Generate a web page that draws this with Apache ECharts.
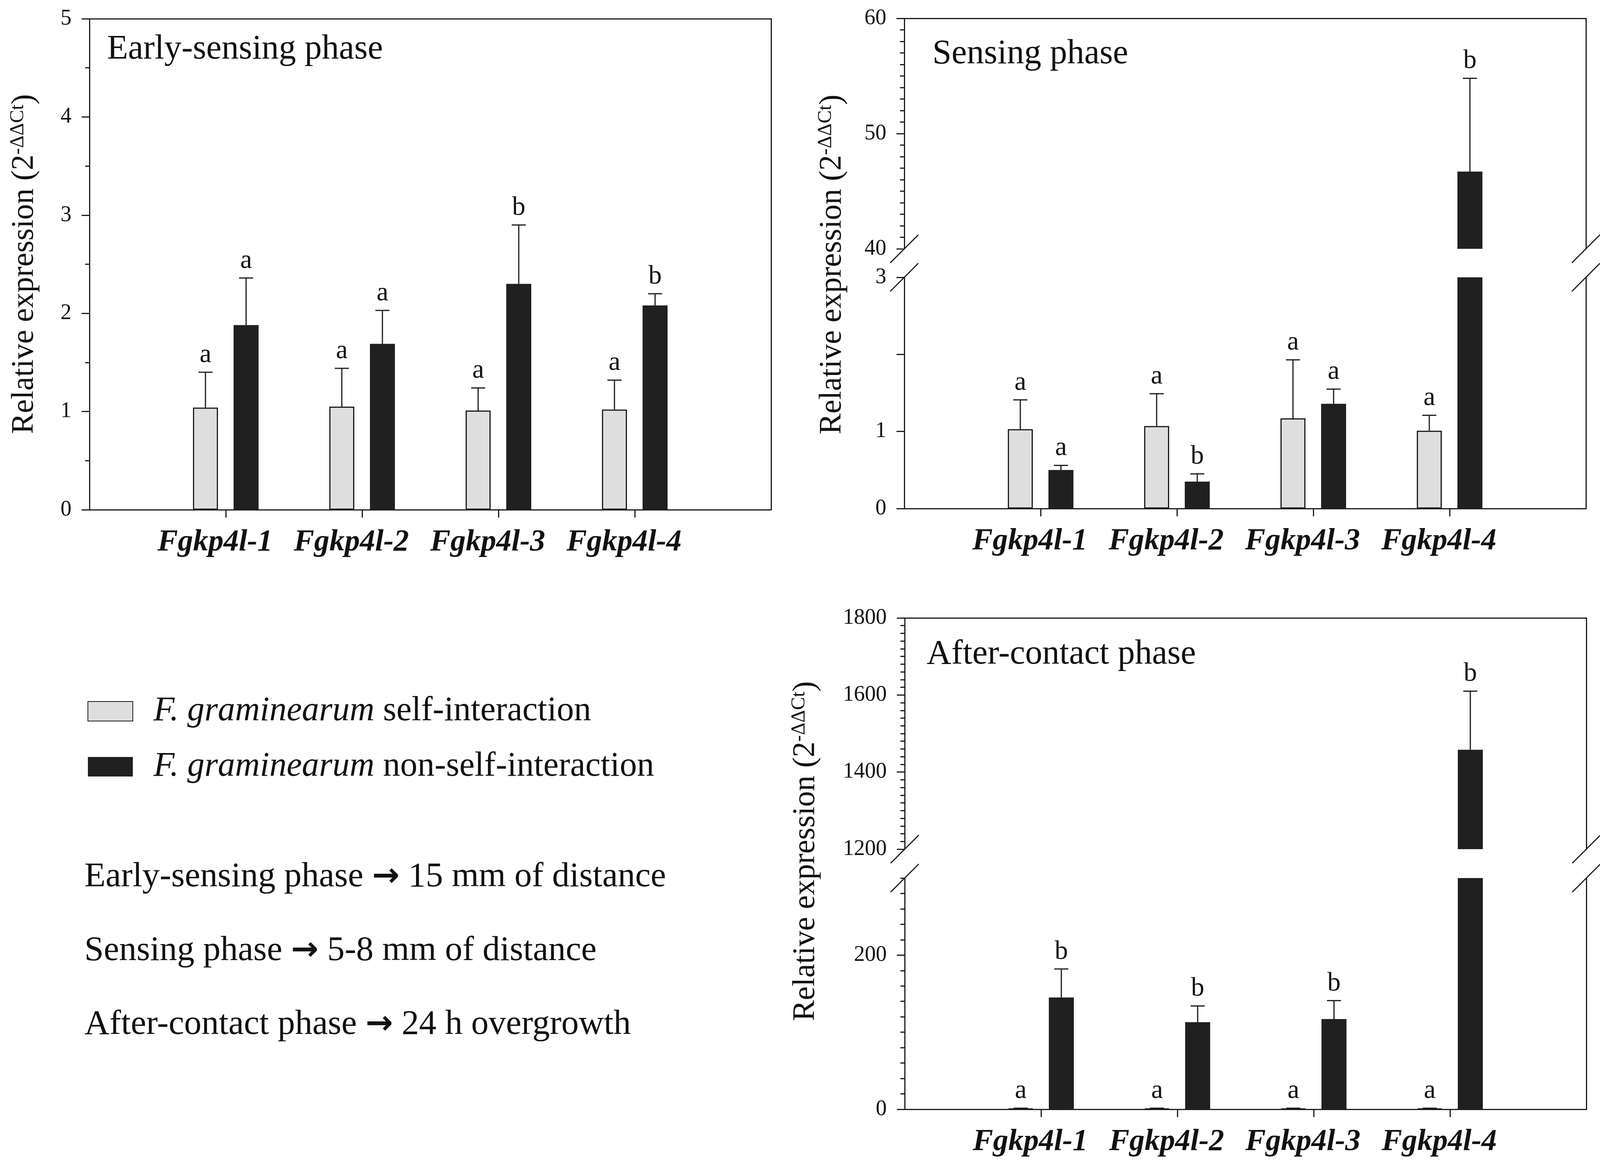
<!DOCTYPE html>
<html lang="en">
<head>
<meta charset="UTF-8">
<title>Fgkp4l relative expression</title>
<script src="https://cdn.jsdelivr.net/npm/echarts@6.0.0/dist/echarts.min.js"></script>
<style>
    html, body { margin: 0; padding: 0; background: #fff; }
    #main { width: 4125px; height: 2998px; }
</style>
</head>
<body>
<div id="main"></div>
<script type="text/javascript">
    // ---- data ----
    var genes = ['Fgkp4l-1', 'Fgkp4l-2', 'Fgkp4l-3', 'Fgkp4l-4'];
    var seriesNames = ['F. graminearum self-interaction', 'F. graminearum non-self-interaction'];

    // early-sensing phase
    var earlySelf = [1.04, 1.05, 1.01, 1.02];
    var earlySelfErr = [0.36, 0.39, 0.23, 0.30];
    var earlyNon = [1.88, 1.69, 2.30, 2.08];
    var earlyNonErr = [0.48, 0.34, 0.60, 0.12];
    var earlySelfLetters = ['a', 'a', 'a', 'a'];
    var earlyNonLetters = ['a', 'a', 'b', 'b'];

    // sensing phase
    var sensSelf = [1.03, 1.07, 1.17, 1.01];
    var sensSelfErr = [0.38, 0.42, 0.76, 0.20];
    var sensNon = [0.50, 0.35, 1.36, 46.7];
    var sensNonErr = [0.06, 0.10, 0.19, 8.1];
    var sensSelfLetters = ['a', 'a', 'a', 'a'];
    var sensNonLetters = ['a', 'b', 'a', 'b'];

    // after-contact phase
    var afterSelf = [1.0, 1.0, 1.0, 1.0];
    var afterSelfErr = [0.4, 0.4, 0.4, 0.4];
    var afterNon = [145, 113, 117, 1458];
    var afterNonErr = [37, 21, 24, 152];
    var afterSelfLetters = ['a', 'a', 'a', 'a'];
    var afterNonLetters = ['b', 'b', 'b', 'b'];

    // axis ranges / tick labels
    var earlyRange = [0, 5];
    var sensLowRange = [0, 3], sensHighRange = [40, 60];
    var afterLowRange = [0, 300], afterHighRange = [1200, 1800];
    var sensLowLabels = [0, 1, 3];
    var afterLowLabels = [0, 200];

    var notes = [
        ['Early-sensing phase', '15 mm of distance'],
        ['Sensing phase', '5-8 mm of distance'],
        ['After-contact phase', '24 h overgrowth']
    ];
    var titles = ['Early-sensing phase', 'Sensing phase', 'After-contact phase'];

    // ---- style / layout ----
    var FONT = 'Liberation Serif';
    var INK = '#1a1a1a';
    var LIGHT = '#dedede';
    var DARK = '#202020';
    var BAR_W = 64, BAR_GAP = 40;
    var OFF = (BAR_W + BAR_GAP) / 2;
    var PW = 1745;
    var CATS = [''].concat(genes).concat([' ']);

    var grids = [
        {left: 229, top: 48, width: PW, height: 1257},   // early
        {left: 2315, top: 47, width: PW, height: 590},   // sensing upper
        {left: 2315, top: 710, width: PW, height: 592},  // sensing lower
        {left: 2316, top: 1582, width: PW, height: 592}, // after upper
        {left: 2316, top: 2248, width: PW, height: 592}  // after lower
    ];

    var panels = [
        {range: earlyRange, self: earlySelf, selfErr: earlySelfErr, non: earlyNon, nonErr: earlyNonErr, sl: earlySelfLetters, nl: earlyNonLetters, bottom: true},
        {range: sensHighRange, self: sensSelf, selfErr: sensSelfErr, non: sensNon, nonErr: sensNonErr, sl: sensSelfLetters, nl: sensNonLetters, bottom: false},
        {range: sensLowRange, self: sensSelf, selfErr: sensSelfErr, non: sensNon, nonErr: sensNonErr, sl: sensSelfLetters, nl: sensNonLetters, bottom: true},
        {range: afterHighRange, self: afterSelf, selfErr: afterSelfErr, non: afterNon, nonErr: afterNonErr, sl: afterSelfLetters, nl: afterNonLetters, bottom: false},
        {range: afterLowRange, self: afterSelf, selfErr: afterSelfErr, non: afterNon, nonErr: afterNonErr, sl: afterSelfLetters, nl: afterNonLetters, bottom: true}
    ];

    var lineStyle = {color: INK, width: 3};

    function pad(vals, lo) {
        return ['-'].concat(vals.map(function (v) { return v < lo ? '-' : v; })).concat(['-']);
    }

    var xAxes = [], yAxes = [], series = [];

    panels.forEach(function (p, g) {
        xAxes.push({
            type: 'category', gridIndex: g, data: CATS, boundaryGap: false,
            position: p.bottom ? 'bottom' : 'top',
            axisLine: {show: true, onZero: false, lineStyle: lineStyle},
            axisTick: {show: p.bottom, length: 20, lineStyle: lineStyle,
                interval: function (i) { return i > 0 && i < 5; }},
            axisLabel: {show: p.bottom, interval: 0, margin: 44, color: '#111',
                fontFamily: FONT, fontSize: 78, fontWeight: 'bold', fontStyle: 'italic',
                lineHeight: 80, padding: [0, 55, 0, 0]},
            splitLine: {show: false}
        });
    });

    // left value axes
    var yCfg = [
        {interval: 1, minor: 2, fmt: function (v) { return v; }},
        {interval: 10, minor: 10, fmt: function (v) { return v; }},
        {interval: 1, minor: 0, fmt: function (v) { return sensLowLabels.indexOf(v) >= 0 ? v : ''; }},
        {interval: 200, minor: 10, fmt: function (v) { return v; }},
        {interval: 20, minor: 0, fmt: function (v) { return afterLowLabels.indexOf(v) >= 0 ? v : ''; }}
    ];
    panels.forEach(function (p, g) {
        var c = yCfg[g];
        yAxes.push({
            type: 'value', gridIndex: g, position: 'left',
            min: p.range[0], max: p.range[1], interval: c.interval,
            axisLine: {show: true, onZero: false, lineStyle: lineStyle},
            axisTick: {show: true, length: g === 4 ? 11 : 20, lineStyle: lineStyle},
            minorTick: {show: c.minor > 0, splitNumber: c.minor || 5, length: 11, lineStyle: lineStyle},
            axisLabel: {show: true, margin: 46, formatter: c.fmt, color: '#111', fontFamily: FONT, fontSize: 56},
            splitLine: {show: false}, minorSplitLine: {show: false}
        });
    });
    // right-hand frame lines
    panels.forEach(function (p, g) {
        yAxes.push({
            type: 'value', gridIndex: g, position: 'right', min: 0, max: 1,
            axisLine: {show: true, onZero: false, lineStyle: lineStyle},
            axisTick: {show: false}, axisLabel: {show: false}, splitLine: {show: false}
        });
    });
    // top frame for early panel
    xAxes.push({
        type: 'category', gridIndex: 0, data: CATS, boundaryGap: false, position: 'top',
        axisLine: {show: true, onZero: false, lineStyle: lineStyle},
        axisTick: {show: false}, axisLabel: {show: false}, splitLine: {show: false}
    });
    // long ticks at labelled values on the after-contact lower axis
    yAxes.push({
        type: 'value', gridIndex: 4, position: 'left', min: afterLowRange[0], max: afterLowRange[1],
        axisLine: {show: false, onZero: false},
        axisTick: {show: true, length: 20, lineStyle: lineStyle, customValues: afterLowLabels},
        axisLabel: {show: false}, splitLine: {show: false}
    });

    panels.forEach(function (p, g) {
        var lo = p.range[0], hi = p.range[1];
        series.push({
            name: seriesNames[0], type: 'bar', xAxisIndex: g, yAxisIndex: g,
            barWidth: BAR_W, barGap: (BAR_GAP / BAR_W * 100) + '%',
            data: pad(p.self, lo),
            itemStyle: {color: LIGHT, borderColor: INK, borderWidth: 3}
        });
        series.push({
            name: seriesNames[1], type: 'bar', xAxisIndex: g, yAxisIndex: g,
            barWidth: BAR_W, barGap: (BAR_GAP / BAR_W * 100) + '%',
            data: pad(p.non, lo),
            itemStyle: {color: DARK, borderColor: DARK, borderWidth: 0}
        });
        var items = [], letters = [];
        for (var i = 0; i < genes.length; i++) {
            items.push([i + 1, p.self[i], p.selfErr[i], -1]);
            letters.push(p.sl[i]);
            items.push([i + 1, p.non[i], p.nonErr[i], 1]);
            letters.push(p.nl[i]);
        }
        series.push({
            type: 'custom', xAxisIndex: g, yAxisIndex: g, z: 5,
            encode: {x: 0, y: 1},
            data: items,
            renderItem: function (params, api) {
                var x = api.value(0), v = api.value(1), e = api.value(2), side = api.value(3);
                if (v < lo || v > hi) return;
                var base = api.coord([x, v]);
                var top = api.coord([x, v + e]);
                var cx = base[0] + side * OFF;
                return {
                    type: 'group',
                    children: [
                        {type: 'line', shape: {x1: cx, y1: base[1], x2: cx, y2: top[1]},
                            style: {stroke: INK, lineWidth: 3}},
                        {type: 'line', shape: {x1: cx - 18, y1: top[1], x2: cx + 18, y2: top[1]},
                            style: {stroke: INK, lineWidth: 3}},
                        {type: 'text', x: cx, y: top[1] - 10,
                            style: {text: letters[params.dataIndex], align: 'center', verticalAlign: 'bottom',
                                fontFamily: FONT, fontSize: 68, fill: '#111'}}
                    ]
                };
            }
        });
    });

    // ---- graphic text & axis breaks ----
    var graphic = [];
    var titlePos = [[274, 127], [2387, 139], [2372, 1676]];
    titles.forEach(function (t, i) {
        graphic.push({type: 'text', x: titlePos[i][0], y: titlePos[i][1],
            style: {text: t, align: 'left', verticalAlign: 'middle', fontFamily: FONT, fontSize: 88, fill: '#111'}});
    });

    var ylabPos = [[63, 676], [2131, 677], [2063, 2179]];
    ylabPos.forEach(function (pos) {
        graphic.push({type: 'text', x: pos[0], y: pos[1], rotation: Math.PI / 2,
            style: {
                text: '{n|Relative expression (2}{s|-\u0394\u0394Ct}{n|)}',
                align: 'center', verticalAlign: 'middle',
                rich: {
                    n: {fontFamily: FONT, fontSize: 80, lineHeight: 84, fill: '#111'},
                    s: {fontFamily: FONT, fontSize: 50, lineHeight: 50, verticalAlign: 'top', fill: '#111'}
                }
            }});
    });

    var noteY = [2246, 2435, 2624];
    notes.forEach(function (n, i) {
        graphic.push({type: 'text', x: 216, y: noteY[i],
            style: {
                text: '{n|' + n[0] + ' }{a|\u2192}{n| ' + n[1] + '}',
                align: 'left', verticalAlign: 'middle',
                rich: {
                    n: {fontFamily: FONT, fontSize: 89, fill: '#111'},
                    a: {fontFamily: 'DejaVu Sans', fontWeight: 'bold', fontSize: 84, fill: '#111'}
                }
            }});
    });

    // break marks on both sides of the split panels
    [[1, 2], [3, 4]].forEach(function (pair) {
        var up = grids[pair[0]], low = grids[pair[1]];
        var ys = [up.top + up.height, low.top];
        [up.left, up.left + up.width].forEach(function (x) {
            ys.forEach(function (y) {
                graphic.push({type: 'line', shape: {x1: x - 36, y1: y + 36, x2: x + 36, y2: y - 36},
                    style: {stroke: INK, lineWidth: 3}});
            });
        });
    });

    var option = {
        animation: false,
        backgroundColor: '#fff',
        grid: grids.map(function (g) {
            return {left: g.left, top: g.top, width: g.width, height: g.height, containLabel: false, outerBoundsMode: 'none'};
        }),
        legend: {
            data: seriesNames, orient: 'vertical', left: 219, top: 1772,
            itemWidth: 115, itemHeight: 50, itemGap: 54, icon: 'rect', selectedMode: false,
            formatter: function (name) {
                var parts = name.split(' ');
                return '{i|' + parts[0] + ' ' + parts[1] + '} ' + parts.slice(2).join(' ');
            },
            textStyle: {
                fontFamily: FONT, fontSize: 88, color: '#111', lineHeight: 50, padding: [0, 0, 0, 48],
                rich: {i: {fontFamily: FONT, fontSize: 88, fontStyle: 'italic', lineHeight: 50, color: '#111'}}
            }
        },
        xAxis: xAxes,
        yAxis: yAxes,
        series: series,
        graphic: graphic
    };

    var chart = echarts.init(document.getElementById('main'));
    chart.setOption(option);
</script>
</body>
</html>
